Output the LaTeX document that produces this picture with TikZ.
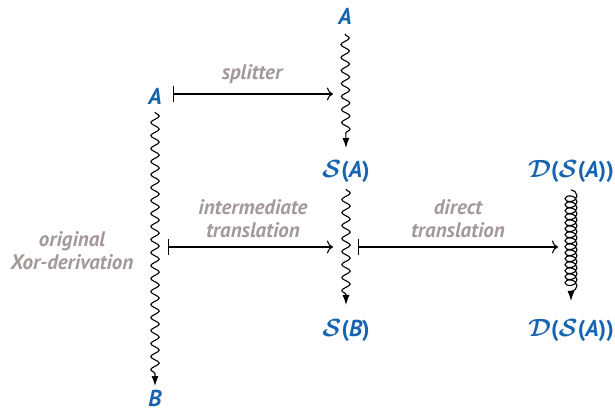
\documentclass[tikz,border=0pt]{standalone}
\usepackage{fontspec}
\setmainfont{PT Sans}
\usepackage{xcolor}
\usepackage{tikz}
\usetikzlibrary{arrows.meta,decorations.pathmorphing}

\definecolor{termblue}{RGB}{22,100,176}
\definecolor{notegray}{RGB}{163,153,153}
% splitter and direct translation applied to a term
\newcommand{\splt}[1]{{\boldmath$\mathcal{S}$}{\upshape(}#1{\upshape)}}
\newcommand{\dirt}[1]{{\boldmath$\mathcal{D}$}{\upshape(}#1{\upshape)}}
\tikzset{
  term/.style={text=termblue,inner sep=1pt,anchor=base,font=\fontsize{23}{23}\selectfont\bfseries\itshape},
  note/.style={text=notegray,align=center,font=\fontsize{21}{23}\selectfont\bfseries\itshape},
  deriv/.style={line width=1.1pt,-{Latex[length=10pt,width=7pt]},decorate,
    decoration={snake,amplitude=4.2pt,segment length=13pt,post length=9pt}},
  direct/.style={line width=1.1pt,-{Latex[length=10pt,width=7pt]},decorate,
    decoration={coil,amplitude=6pt,segment length=6pt,aspect=0.7,post length=5pt}},
  trans/.style={line width=1.1pt,{Bar[width=16pt]}-{To[length=6pt,width=13pt]}},
}

\begin{document}
\begin{tikzpicture}[x=1pt,y=-1pt]
\useasboundingbox (0,0) rectangle (615,411);
% the terms
\node[term] (A1) at (155,105) {A};
\node[term] (B) at (155,406) {B};
\node[term] (A2) at (345,25) {A};
\node[term] (SA) at (346,178) {\splt{A}};
\node[term] (SB) at (346,336) {\splt{B}};
\node[term] (DSA) at (571,178) {\dirt{\splt{A}}};
\node[term] (DSB) at (571,336) {\dirt{\splt{A}}};
\coordinate (sp) at (155,94);
\coordinate (mid) at (155,247);

% derivations
\draw[deriv] ([yshift=-7pt]A1.base) -- ([yshift=20pt]B.base);
\draw[deriv] ([yshift=-9pt]A2.base) -- ([yshift=30pt]SA.base);
\draw[deriv] ([yshift=-11pt]SA.base) -- ([yshift=31pt]SB.base);
\draw[direct] ([yshift=-12pt]DSA.base) -- ([yshift=35pt]DSB.base);

% translations
\draw[trans] ([xshift=18pt]sp) -- ([xshift=-12pt]sp -| A2.base);
\draw[trans] ([xshift=13pt]mid) -- ([xshift=-12pt]mid -| A2.base);
\draw[trans] ([xshift=13pt]mid -| A2.base) -- ([xshift=-13pt]mid -| DSA.base);

\node[note] (split) at (252,74) {splitter};
\node[note] (inter) at (253,219) {intermediate\\translation};
\node[note] (dir) at (458,219) {direct\\translation};
\node[note] (orig) at (72,251) {original\\Xor-derivation};
\end{tikzpicture}
\end{document}
